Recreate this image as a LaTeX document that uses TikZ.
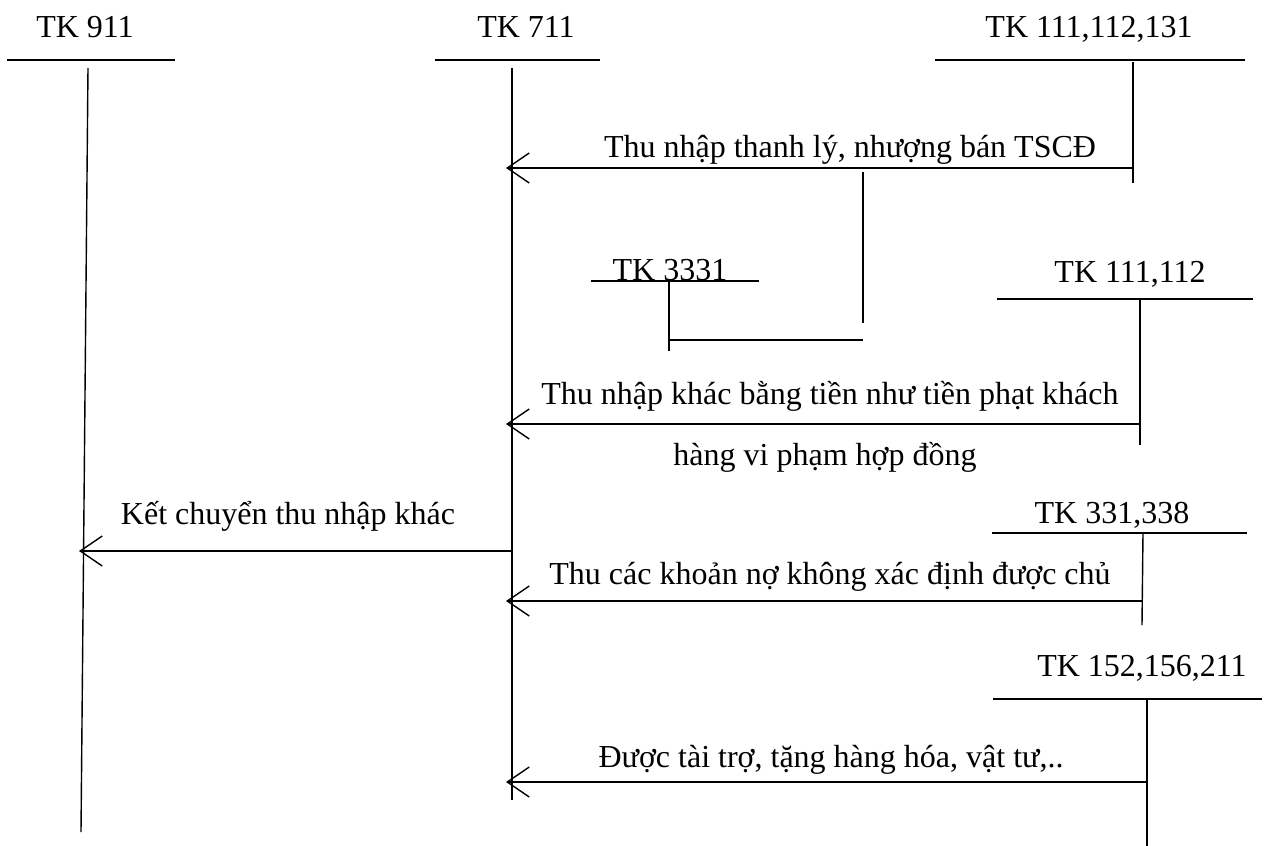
\documentclass[tikz,border=0pt]{standalone}
\usepackage{fontspec}
\setmainfont{Liberation Serif}
\usetikzlibrary{arrows.meta}
\begin{document}
\begin{tikzpicture}[x=1pt,y=-1pt,line width=1.4pt,
  txt/.style={inner sep=0pt,anchor=base,font=\fontsize{32}{38}\selectfont},
  flow/.style={-{Straight Barb[length=22pt,width=30pt,line width=1.4pt]}}]
\useasboundingbox (0,0) rectangle (1278,846);

% account titles
\node[txt] (t911) at (85,37) {TK 911};
\node[txt] (t711) at (526,37) {TK 711};
\node[txt] (t111a) at (1089,37) {TK 111,112,131};
\node[txt] (t3331) at (670,280) {TK 3331};
\node[txt] (t111b) at (1130,282) {TK 111,112};
\node[txt] (t331) at (1112,523) {TK 331,338};
\node[txt] (t152) at (1142,676) {TK 152,156,211};

% T-account bars
\coordinate (a911l) at (7,60);   \coordinate (a911r) at (175,60);
\coordinate (a911t) at (88,68);  \coordinate (a911b) at (81,832);
\coordinate (a711l) at (435,60); \coordinate (a711r) at (600,60);
\coordinate (a711t) at (512,68); \coordinate (a711b) at (512,800);
\coordinate (a111l) at (935,60); \coordinate (a111r) at (1245,60);
\coordinate (a111t) at (1133,62); \coordinate (a111b) at (1133,183);
\coordinate (a333l) at (591,281); \coordinate (a333r) at (759,281);
\coordinate (a333t) at (669,281); \coordinate (a333b) at (669,351);
\coordinate (a112l) at (997,299); \coordinate (a112r) at (1253,299);
\coordinate (a112t) at (1140,299); \coordinate (a112b) at (1140,445);
\coordinate (a338l) at (992,533); \coordinate (a338r) at (1247,533);
\coordinate (a338t) at (1143,533); \coordinate (a338b) at (1142,625);
\coordinate (a152l) at (993,699); \coordinate (a152r) at (1262,699);
\coordinate (a152t) at (1147,699); \coordinate (a152b) at (1147,846);

\foreach \k in {911,711,111,333,112,338,152}{
  \draw (a\k l) -- (a\k r);
  \draw (a\k t) -- (a\k b);
}

% VAT branch
\coordinate (vt) at (863,172); \coordinate (vb) at (863,323);
\coordinate (hl) at (669,340); \coordinate (hr) at (863,340);
\draw (vt) -- (vb);
\draw (hl) -- (hr);

% entries
\coordinate (s1) at (1133,168); \coordinate (e1) at (506,168);
\draw[flow] (s1) -- (e1);
\node[txt] (l1) at (850,157) {Thu nhập thanh lý, nhượng bán TSCĐ};

\coordinate (s2) at (1140,424); \coordinate (e2) at (506,424);
\draw[flow] (s2) -- (e2);
\node[txt] (l2a) at (830,404) {Thu nhập khác bằng tiền như tiền phạt khách};
\node[txt] (l2b) at (825,465) {hàng vi phạm hợp đồng};

\coordinate (s3) at (512,551); \coordinate (e3) at (79,551);
\draw[flow] (s3) -- (e3);
\node[txt] (l3) at (288,524) {Kết chuyển thu nhập khác};

\coordinate (s4) at (1142,601); \coordinate (e4) at (506,601);
\draw[flow] (s4) -- (e4);
\node[txt] (l4) at (830,584) {Thu các khoản nợ không xác định được chủ};

\coordinate (s5) at (1147,782); \coordinate (e5) at (506,782);
\draw[flow] (s5) -- (e5);
\node[txt] (l5) at (831,767) {Được tài trợ, tặng hàng hóa, vật tư,..};
\end{tikzpicture}
\end{document}
